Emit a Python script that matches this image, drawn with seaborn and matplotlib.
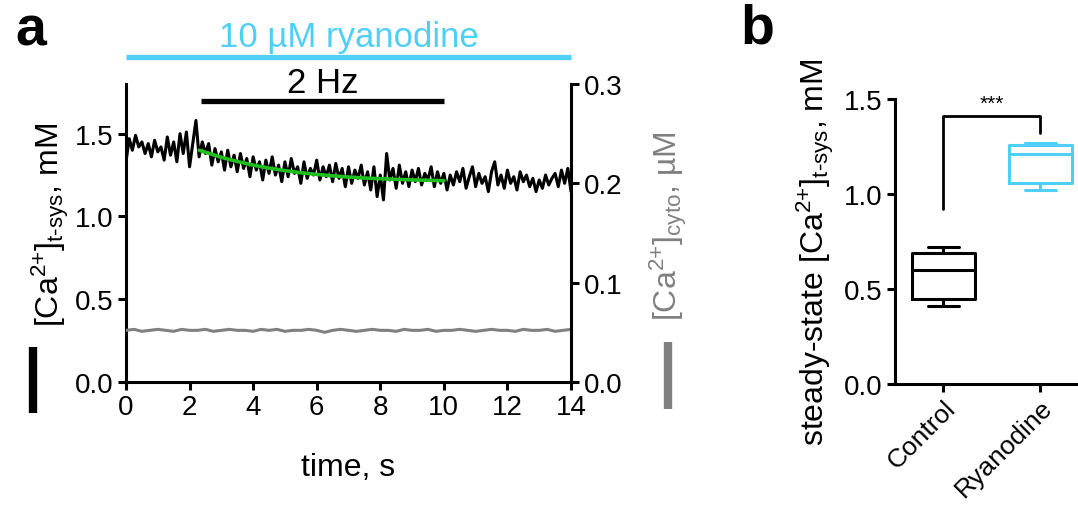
import numpy as np
import pandas as pd
import matplotlib.pyplot as plt
from matplotlib.lines import Line2D
import seaborn as sns

# panel a: t-system Ca trace, sampled every 0.1 s (mM)
t_sys = [1.33, 1.47, 1.40, 1.49, 1.42, 1.45, 1.38, 1.44, 1.36, 1.46,
         1.39, 1.42, 1.34, 1.48, 1.37, 1.45, 1.33, 1.50, 1.38, 1.51,
         1.30, 1.44, 1.58, 1.36, 1.45, 1.38, 1.44, 1.31, 1.41, 1.33,
         1.39, 1.28, 1.40, 1.30, 1.37, 1.27, 1.38, 1.29, 1.35, 1.24,
         1.36, 1.28, 1.33, 1.22, 1.34, 1.26, 1.36, 1.25, 1.31, 1.21,
         1.33, 1.24, 1.35, 1.26, 1.30, 1.20, 1.33, 1.23, 1.29, 1.25,
         1.34, 1.22, 1.30, 1.24, 1.31, 1.21, 1.32, 1.23, 1.29, 1.18,
         1.30, 1.20, 1.28, 1.23, 1.31, 1.19, 1.27, 1.16, 1.30, 1.12,
         1.25, 1.10, 1.38, 1.22, 1.29, 1.17, 1.31, 1.20, 1.27, 1.18,
         1.28, 1.21, 1.29, 1.19, 1.26, 1.22, 1.30, 1.18, 1.27, 1.20,
         1.26, 1.16, 1.25, 1.19, 1.27, 1.21, 1.29, 1.17, 1.24, 1.30,
         1.18, 1.26, 1.20, 1.24, 1.15, 1.27, 1.33, 1.19, 1.25, 1.17,
         1.28, 1.20, 1.24, 1.16, 1.27, 1.21, 1.25, 1.18, 1.23, 1.15,
         1.22, 1.17, 1.25, 1.19, 1.23, 1.26, 1.18, 1.28, 1.20, 1.29,
         1.15]
dt_sys = 0.1

# cytosolic Ca trace, sampled every 0.25 s (uM)
cyto = [0.052, 0.053, 0.051, 0.052, 0.053, 0.052, 0.051, 0.053, 0.052, 0.052,
        0.053, 0.051, 0.052, 0.053, 0.052, 0.052, 0.051, 0.053, 0.052, 0.053,
        0.051, 0.052, 0.052, 0.053, 0.052, 0.050, 0.052, 0.053, 0.052, 0.051,
        0.052, 0.053, 0.052, 0.052, 0.051, 0.053, 0.052, 0.052, 0.053, 0.051,
        0.052, 0.052, 0.053, 0.052, 0.051, 0.052, 0.053, 0.052, 0.052, 0.051,
        0.053, 0.052, 0.052, 0.053, 0.051, 0.052, 0.053]
dt_cyto = 0.25

# exponential fit during pacing
fit_t = [2.3, 2.5, 3.0, 3.5, 4.0, 4.5, 5.0, 5.5, 6.0, 6.5, 7.0, 7.5, 8.0, 8.5, 9.0, 9.5, 10.0]
fit_v = [1.400, 1.388, 1.357, 1.332, 1.310, 1.292, 1.277, 1.264, 1.254, 1.245,
         1.238, 1.232, 1.228, 1.224, 1.221, 1.218, 1.216]

ryanodine_period = (0, 14)
pacing_period = (2.36, 10.0)

# panel b: steady-state values
groups = ["Control"] * 5 + ["Ryanodine"] * 5
steady = [0.41, 0.45, 0.60, 0.69, 0.72, 1.02, 1.06, 1.21, 1.26, 1.27]

cyan = "#4fcff5"
green = "#1fbf1f"
grey = "#808080"

sns.set_style("ticks")
plt.rcParams['font.family'] = ['Liberation Sans', 'DejaVu Sans']
plt.rcParams['mathtext.fontset'] = 'custom'
plt.rcParams['mathtext.rm'] = 'Liberation Sans'
plt.rcParams['mathtext.it'] = 'Liberation Sans:italic'
plt.rcParams['axes.linewidth'] = 2.2
plt.rcParams['xtick.major.width'] = 2.2
plt.rcParams['ytick.major.width'] = 2.2
plt.rcParams['xtick.major.size'] = 6
plt.rcParams['ytick.major.size'] = 6
plt.rcParams['axes.edgecolor'] = 'black'
plt.rcParams['xtick.color'] = 'black'
plt.rcParams['ytick.color'] = 'black'
plt.rcParams['text.color'] = 'black'
plt.rcParams['axes.labelcolor'] = 'black'

fs = 20
lfs = 23
fig = plt.figure(figsize=(10.78, 5.06), dpi=100)

# ---- panel a
ax = fig.add_axes([126 / 1078, 1 - 383 / 506, 445 / 1078, 298 / 506])
df_sys = pd.DataFrame({"t": np.arange(len(t_sys)) * dt_sys, "v": t_sys})
df_cyto = pd.DataFrame({"t": np.arange(len(cyto)) * dt_cyto, "v": cyto})
df_fit = pd.DataFrame({"t": fit_t, "v": fit_v})

sns.lineplot(data=df_sys, x="t", y="v", ax=ax, color="black", lw=2.2)
sns.lineplot(data=df_fit, x="t", y="v", ax=ax, color=green, lw=2.6)
ax.set_xlim(0, 14)
ax.set_ylim(0, 1.8)
ax.set_xticks(range(0, 15, 2))
ax.set_yticks([0, 0.5, 1.0, 1.5])
ax.set_yticklabels(["0.0", "0.5", "1.0", "1.5"])
ax.tick_params(labelsize=fs, pad=3)
ax.set_xlabel("time, s", fontsize=lfs, va="center")
ax.xaxis.set_label_coords(0.5, -0.285)
ax.set_ylabel("")
ax.spines["top"].set_visible(False)
ax.spines["right"].set_visible(False)

ax2 = ax.twinx()
sns.lineplot(data=df_cyto, x="t", y="v", ax=ax2, color=grey, lw=2.2)
ax2.set_ylim(0, 0.3)
ax2.set_yticks([0, 0.1, 0.2, 0.3])
ax2.set_yticklabels(["0.0", "0.1", "0.2", "0.3"])
ax2.tick_params(labelsize=fs, pad=3)
ax2.set_ylabel("")
for s in ["top", "left", "bottom"]:
    ax2.spines[s].set_visible(False)

trans = ax.get_xaxis_transform()
ax.plot(ryanodine_period, [1.091, 1.091], color=cyan, lw=3.8, transform=trans,
        clip_on=False, solid_capstyle="butt")
ax.text(np.mean(ryanodine_period), 1.16, "10 µM ryanodine", color=cyan, fontsize=25,
        ha="center", va="center", transform=trans)
ax.plot(pacing_period, [0.943, 0.943], color="black", lw=3.8, transform=trans,
        clip_on=False, solid_capstyle="butt")
ax.text(np.mean(pacing_period), 1.005, "2 Hz", color="black", fontsize=25,
        ha="center", va="center", transform=trans)

fig.text(50 / 1078, 1 - 225 / 506, r'[Ca$^{\text{2+}}$]$_{\text{t-sys}}$, mM', rotation=90,
         fontsize=lfs, ha="center", va="center")
fig.add_artist(Line2D([33 / 1078, 33 / 1078], [1 - 348 / 506, 1 - 414 / 506], color="black",
                      lw=6, transform=fig.transFigure, solid_capstyle="butt"))
fig.text(668 / 1078, 1 - 226 / 506, r'[Ca$^{\text{2+}}$]$_{\text{cyto}}$, µM', rotation=90,
         fontsize=lfs, ha="center", va="center", color=grey)
fig.add_artist(Line2D([668 / 1078, 668 / 1078], [1 - 343 / 506, 1 - 410 / 506], color=grey,
                      lw=6, transform=fig.transFigure, solid_capstyle="butt"))

fig.text(31 / 1078, 1 - 32 / 506, "a", fontsize=40, fontweight="bold", ha="center", va="center")
fig.text(757 / 1078, 1 - 30 / 506, "b", fontsize=40, fontweight="bold", ha="center", va="center")

# ---- panel b
bx = fig.add_axes([895 / 1078, 1 - 385 / 506, 183 / 1078, 285 / 506])
df_b = pd.DataFrame({"group": groups, "value": steady})
sns.boxplot(data=df_b, x="group", y="value", hue="group", ax=bx, fill=False,
            palette={"Control": "black", "Ryanodine": cyan}, whis=(0, 100),
            width=0.65, linewidth=2.2, legend=False)
bx.set_xlim(-0.5, 1.39)
bx.set_ylim(0, 1.5)
bx.set_yticks([0, 0.5, 1.0, 1.5])
bx.set_yticklabels(["0.0", "0.5", "1.0", "1.5"])
bx.tick_params(axis="y", labelsize=fs, pad=3)
bx.tick_params(axis="x", labelsize=fs - 1, pad=2)
bx.set_xticks([0, 1])
bx.set_xticklabels(["Control", "Ryanodine"], rotation=45, ha="right", va="top",
                   rotation_mode="anchor")
bx.set_xlabel("")
bx.set_ylabel(r'steady-state [Ca$^{\text{2+}}$]$_{\text{t-sys}}$, mM', fontsize=lfs, va="center")
bx.yaxis.set_label_coords(-0.437, 0.467)
bx.spines["top"].set_visible(False)
bx.spines["right"].set_visible(False)

# significance bracket
bx.plot([0, 0, 1, 1], [0.92, 1.41, 1.41, 1.32], color="black", lw=2.0, clip_on=False)
bx.text(0.5, 1.425, "***", ha="center", va="bottom", fontsize=15)

fig.savefig("out.png", dpi=100)
